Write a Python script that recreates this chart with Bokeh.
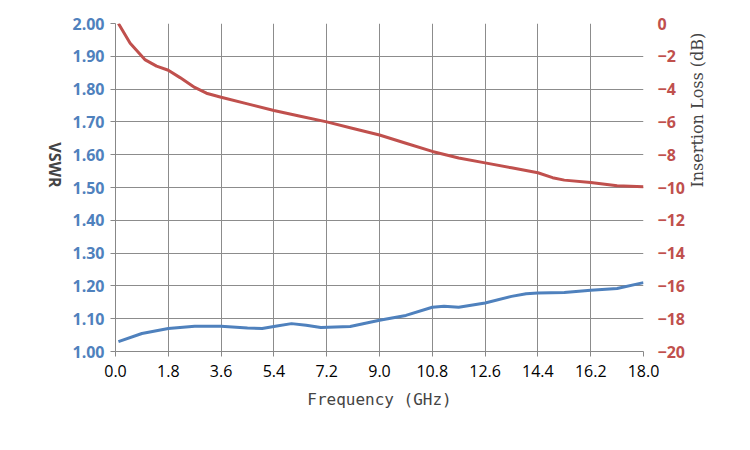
from bokeh.plotting import figure
from bokeh.models import LinearAxis, Range1d, FixedTicker, CustomJSTickFormatter
from bokeh.embed import file_html
from bokeh.resources import INLINE
import math

freq_il = [0.1, 0.5, 1.0, 1.4, 1.8, 2.2, 2.7, 3.1, 3.6, 4.5, 5.4, 6.3, 7.2, 8.1, 9.0, 9.9, 10.8, 11.7, 12.6, 13.5, 14.4, 14.9, 15.3, 16.2, 17.1, 18.0]
il_db = [0.0, -1.2, -2.2, -2.6, -2.85, -3.3, -3.9, -4.25, -4.5, -4.9, -5.3, -5.65, -6.0, -6.4, -6.8, -7.3, -7.8, -8.2, -8.5, -8.8, -9.1, -9.4, -9.55, -9.7, -9.9, -9.95]
freq_vswr = [0.1, 0.9, 1.8, 2.7, 3.6, 4.5, 5.0, 5.5, 6.0, 6.5, 7.0, 8.0, 9.0, 9.9, 10.8, 11.2, 11.7, 12.6, 13.5, 14.0, 14.4, 15.3, 16.2, 17.1, 18.0]
vswr = [1.03, 1.055, 1.07, 1.077, 1.077, 1.072, 1.07, 1.078, 1.085, 1.08, 1.073, 1.076, 1.095, 1.11, 1.135, 1.138, 1.135, 1.148, 1.168, 1.176, 1.178, 1.18, 1.187, 1.192, 1.21]
x_ticks = [0.0, 1.8, 3.6, 5.4, 7.2, 9.0, 10.8, 12.6, 14.4, 16.2, 18.0]
y_ticks = [1.0 + 0.1 * i for i in range(11)]
il_ticks = [-20, -18, -16, -14, -12, -10, -8, -6, -4, -2, 0]

BLUE = "#4F81BD"
RED = "#C0504D"

p = figure(width=734, height=434, output_backend="svg", toolbar_location=None,
           x_range=Range1d(0, 18), y_range=Range1d(1.0, 2.0),
           min_border_left=115, min_border_right=91, min_border_top=23, min_border_bottom=83)
p.outline_line_color = None
p.extra_y_ranges = {"il": Range1d(-20, 0)}

p.xaxis.ticker = FixedTicker(ticks=x_ticks)
p.xaxis.formatter = CustomJSTickFormatter(code="return tick.toFixed(1);")
p.yaxis.ticker = FixedTicker(ticks=y_ticks)
p.yaxis.formatter = CustomJSTickFormatter(code="return tick.toFixed(2);")
for ax in (p.xaxis[0], p.yaxis[0]):
    ax.axis_line_color = "#888888"
    ax.major_tick_line_color = "#888888"
    ax.minor_tick_line_color = None
    ax.major_tick_in = 0
    ax.major_tick_out = 5
p.xaxis.major_label_text_font = "Open Sans"
p.xaxis.major_label_text_font_size = "16px"
p.xaxis.major_label_text_color = "#000000"
p.xaxis.major_label_standoff = 8
p.xaxis.axis_label = "Frequency (GHz)"
p.xaxis.axis_label_text_font = "DejaVu Sans Mono"
p.xaxis.axis_label_text_font_style = "normal"
p.xaxis.axis_label_text_font_size = "16px"
p.xaxis.axis_label_standoff = 10
p.yaxis.major_label_text_font = "Open Sans"
p.yaxis.major_label_text_font_size = "16px"
p.yaxis.major_label_text_font_style = "bold"
p.yaxis.major_label_text_color = BLUE
p.yaxis.major_label_standoff = 6
p.yaxis.axis_label = "VSWR"
p.yaxis.axis_label_text_font = "Open Sans"
p.yaxis.axis_label_text_font_style = "bold"
p.yaxis.axis_label_text_font_size = "16px"
p.yaxis.axis_label_orientation = -math.pi / 2
p.yaxis.axis_label_standoff = 14

ra = LinearAxis(y_range_name="il", ticker=FixedTicker(ticks=il_ticks))
ra.axis_line_color = None
ra.major_tick_line_color = None
ra.minor_tick_line_color = None
ra.major_label_text_font = "Open Sans"
ra.major_label_text_font_size = "16px"
ra.major_label_text_font_style = "bold"
ra.major_label_text_color = RED
ra.major_label_standoff = 8
ra.axis_label = "Insertion Loss (dB)"
ra.axis_label_text_font = "DejaVu Serif"
ra.axis_label_text_font_style = "normal"
ra.axis_label_text_font_size = "16px"
ra.axis_label_orientation = math.pi / 2
ra.axis_label_standoff = 10
p.add_layout(ra, "right")

p.xgrid.ticker = FixedTicker(ticks=x_ticks)
p.ygrid.ticker = FixedTicker(ticks=y_ticks)
p.xgrid.grid_line_color = "#8c8c8c"
p.ygrid.grid_line_color = "#8c8c8c"

p.line(freq_il, il_db, y_range_name="il", line_color=RED, line_width=3)
p.line(freq_vswr, vswr, line_color=BLUE, line_width=3)

open("out.html", "w").write(file_html(p, INLINE))
